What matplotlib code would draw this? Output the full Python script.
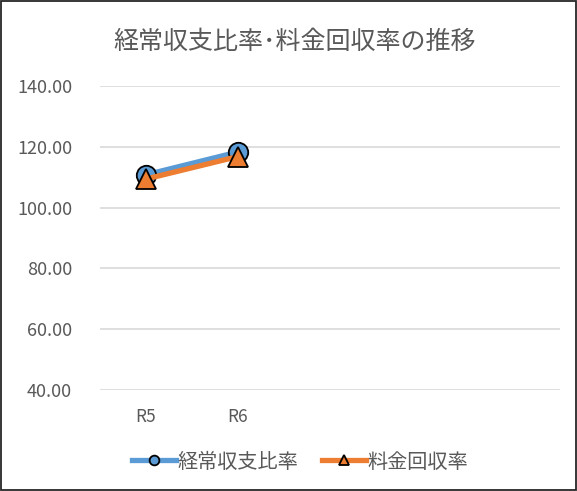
import matplotlib
matplotlib.use("Agg")
import matplotlib.pyplot as plt
from matplotlib.patches import Rectangle

plt.rcParams["font.family"] = ["Noto Sans CJK JP", "DejaVu Sans"]

# データ
categories = ["R5", "R6", "", "", ""]
keijo = [110.8, 118.3]       # 経常収支比率
ryokin = [109.4, 116.8]      # 料金回収率
yticks = [40, 60, 80, 100, 120, 140]

TXT = "#595959"
BLUE = "#5B9BD5"
ORANGE = "#ED7D31"

fig = plt.figure(figsize=(5.77, 4.91), dpi=100)
ax = fig.add_axes([100 / 577, 1 - 390 / 491, 460 / 577, 304 / 491])

x = list(range(len(categories)))
ax.plot(x[:len(keijo)], keijo, color=BLUE, lw=3.8, marker="o", ms=14,
        mfc=BLUE, mec="black", mew=1.3, label="経常収支比率", zorder=3)
ax.plot(x[:len(ryokin)], ryokin, color=ORANGE, lw=3.8, marker="^", ms=15,
        mfc=ORANGE, mec="black", mew=1.3, label="料金回収率", zorder=4)

ax.set_xlim(-0.5, len(categories) - 0.5)
ax.set_ylim(40, 140)
ax.set_yticks(yticks)
ax.set_yticklabels([f"{v:.2f}" for v in yticks], color=TXT, fontsize=13)
ax.set_xticks(x)
ax.set_xticklabels(categories, color=TXT, fontsize=12.5)
ax.tick_params(length=0, pad=20, axis="y")
ax.tick_params(length=0, pad=13, axis="x")
ax.grid(axis="y", color="#D9D9D9", lw=1.2)
ax.set_axisbelow(True)
for s in ax.spines.values():
    s.set_visible(False)

fig.text(295 / 577, 1 - 42 / 491, "経常収支比率･料金回収率の推移",
         ha="center", va="center", fontsize=18, color=TXT)

leg = fig.legend(loc="center", bbox_to_anchor=(300 / 577, 1 - 462 / 491),
                 ncol=2, frameon=False, fontsize=14.5, markerscale=0.5,
                 handlelength=2.2, handletextpad=0.05, columnspacing=1.2)
for t in leg.get_texts():
    t.set_color(TXT)

fig.patches.append(Rectangle((0.002, 0.002), 0.996, 0.996, transform=fig.transFigure,
                             fill=False, ec="#262626", lw=1.3))

fig.savefig("out.png", dpi=100)
